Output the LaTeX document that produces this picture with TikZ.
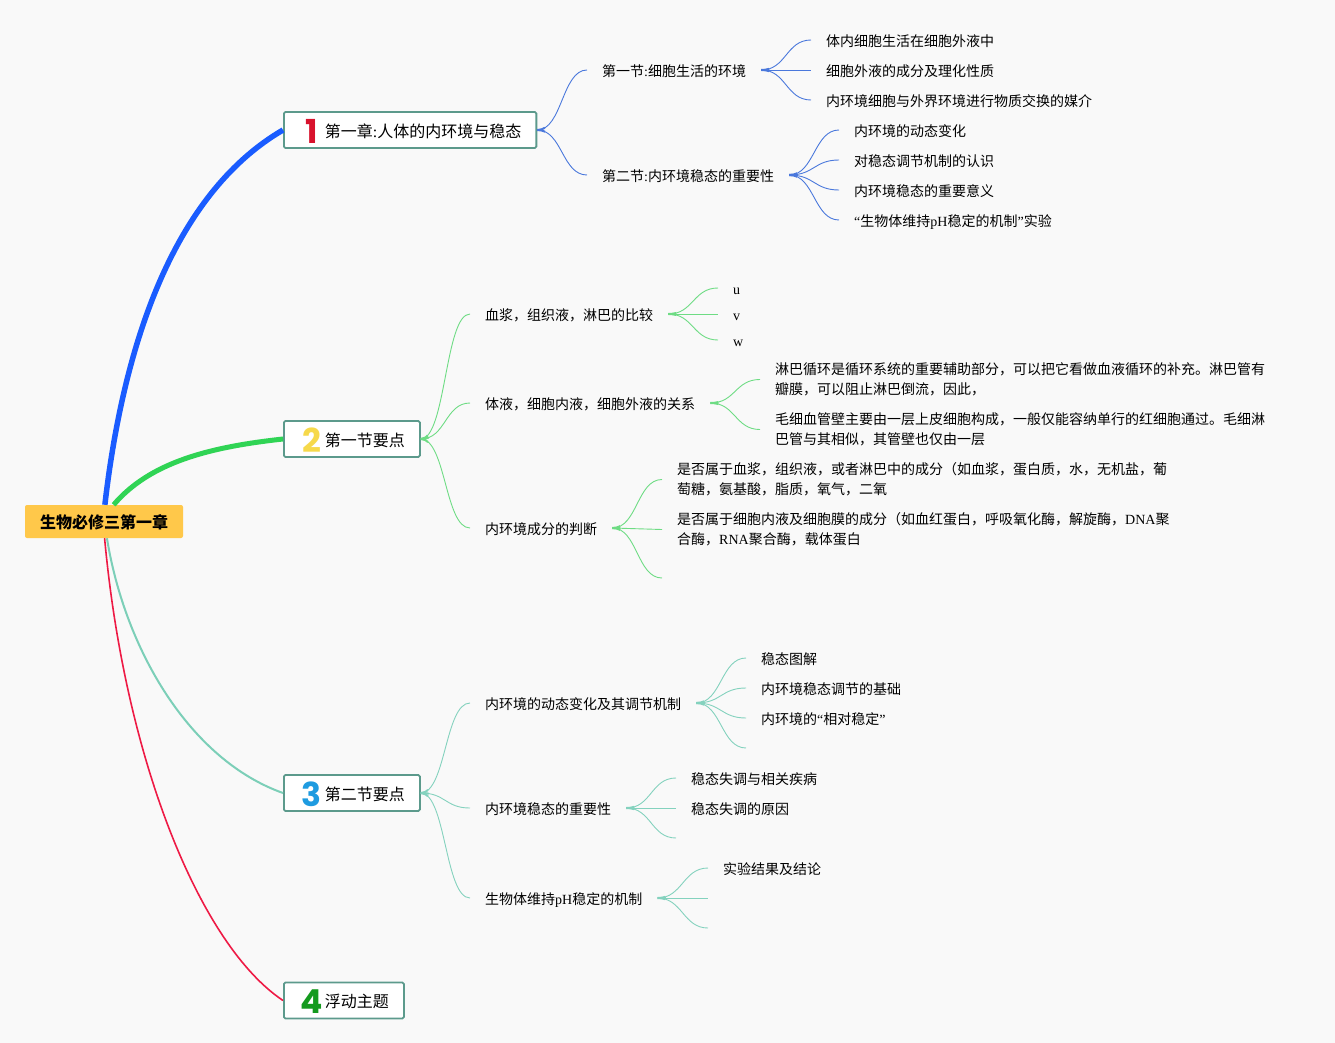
\documentclass[tikz,border=0pt]{standalone}
\usepackage{fontspec}
\usepackage{xcolor}
\setmainfont{Noto Sans CJK SC}
\newfontfamily\latfont{Liberation Serif}
\newfontfamily\numfont{Poppins}
\usepackage{tikz}
\definecolor{paper}{HTML}{F9F9F9}
\definecolor{rootfill}{HTML}{FFC84A}
\definecolor{boxline}{HTML}{5C9A8C}
\definecolor{bluemain}{HTML}{1A5CFF}
\definecolor{greenmain}{HTML}{30D455}
\definecolor{tealmain}{HTML}{7CCFB8}
\definecolor{redmain}{HTML}{EE1A45}
\definecolor{bluesub}{HTML}{4A78DC}
\definecolor{greensub}{HTML}{6EDC84}
\definecolor{tealsub}{HTML}{84D2BE}
\definecolor{numone}{HTML}{D8122C}
\definecolor{numtwo}{HTML}{F6D94B}
\definecolor{numthree}{HTML}{1E9BE0}
\definecolor{numfour}{HTML}{149A1E}
\newcommand{\lat}[1]{{\latfont #1}}
\newcommand{\numicon}[2]{\makebox[26pt][c]{\smash{\raisebox{-6pt}{\color{#1}\fontsize{33}{33}\numfont\bfseries #2}}}}
\tikzstyle{root} = [rectangle, rounded corners=2pt, fill=rootfill, minimum width=158pt, minimum height=33pt, inner sep=0pt, font=\fontsize{16}{20}\selectfont\bfseries, execute at begin node={\rule{0pt}{16pt}}]
\tikzstyle{chapter} = [rectangle, rounded corners=1.5pt, draw=boxline, line width=1.8pt, fill=white, minimum height=36pt, inner xsep=15pt, inner ysep=0pt, anchor=west, font=\fontsize{16}{20}\selectfont, execute at begin node={\rule{0pt}{16pt}}]
\tikzstyle{leaf} = [rectangle, inner xsep=15pt, inner ysep=0pt, anchor=west, align=left, font=\fontsize{14}{20}\selectfont, execute at begin node={\rule{0pt}{14.3pt}}]
\tikzstyle{fork} = [to path={.. controls +(25,0) and +(-25,0) .. (\tikztotarget)}, postaction={draw, line width=2pt, dash pattern=on 8pt off 2000pt}]
\tikzstyle{bluelink} = [draw=bluesub, line width=0.9pt, fork]
\tikzstyle{greenlink} = [draw=greensub, line width=0.9pt, fork]
\tikzstyle{teallink} = [draw=tealsub, line width=0.9pt, fork]
\begin{document}
\begin{tikzpicture}[x=1pt, y=-1pt]
   \useasboundingbox (0,0) rectangle (1335,1043);
   \fill [paper] (0,0) rectangle (1335,1043);
   \node (root) [root] at (104,521.5) {生物必修三第一章};
   \node (ch1) [chapter] at (283,130) {\numicon{numone}{1}第一章\lat{:}人体的内环境与稳态};
   \node (ch2) [chapter] at (283,439) {\numicon{numtwo}{2}第一节要点};
   \node (ch3) [chapter] at (283,793) {\numicon{numthree}{3}第二节要点};
   \node (ch4) [chapter] at (283,1000.5) {\numicon{numfour}{4}浮动主题};
   % main branches
   \draw [bluemain, line width=5.5pt] (root.87) .. controls (125,330) and (180,190) .. (ch1.west);
   \draw [greenmain, line width=5pt] (root.60) .. controls (150,462) and (210,447) .. (ch2.west);
   \draw [tealmain, line width=2pt] (root.-80) .. controls (125,650) and (190,760) .. (ch3.west);
   \draw [redmain, line width=1.6pt] (root.-88) .. controls (125,760) and (200,945) .. (ch4.west);
   % chapter one
   \node (a1) [leaf] at (587,70) {第一节\lat{:}细胞生活的环境};
   \node (a2) [leaf] at (587,175) {第二节\lat{:}内环境稳态的重要性};
   \node (a11) [leaf] at (811,40) {体内细胞生活在细胞外液中};
   \node (a12) [leaf] at (811,70) {细胞外液的成分及理化性质};
   \node (a13) [leaf] at (811,100) {内环境细胞与外界环境进行物质交换的媒介};
   \node (a21) [leaf] at (839,130) {内环境的动态变化};
   \node (a22) [leaf] at (839,160) {对稳态调节机制的认识};
   \node (a23) [leaf] at (839,190) {内环境稳态的重要意义};
   \node (a24) [leaf] at (839,220) {\lat{“}生物体维持\smash{\lat{pH}}稳定的机制\lat{”}实验};
   \foreach \kid in {a1,a2} \draw [bluelink] (ch1.east) to (\kid.west);
   \foreach \kid in {a11,a12,a13} \draw [bluelink] (a1.east) to (\kid.west);
   \foreach \kid in {a21,a22,a23,a24} \draw [bluelink] (a2.east) to (\kid.west);
   % first section
   \node (b1) [leaf] at (470,314) {血浆，组织液，淋巴的比较};
   \node (b2) [leaf] at (470,403) {体液，细胞内液，细胞外液的关系};
   \node (b3) [leaf] at (470,528) {内环境成分的判断};
   \node (b11) [leaf] at (718,288) {\lat{u}\vphantom{血}};
   \node (b12) [leaf] at (718,314) {\lat{v}\vphantom{血}};
   \node (b13) [leaf] at (718,340) {\lat{w}\vphantom{血}};
   \node (b21) [leaf] at (760,379.5) {淋巴循环是循环系统的重要辅助部分，可以把它看做血液循环的补充。淋巴管有\\瓣膜，可以阻止淋巴倒流，因此，};
   \node (b22) [leaf] at (760,429.5) {毛细血管壁主要由一层上皮细胞构成，一般仅能容纳单行的红细胞通过。毛细淋\\巴管与其相似，其管壁也仅由一层};
   \node (b31) [leaf] at (662,479.5) {是否属于血浆，组织液，或者淋巴中的成分（如血浆，蛋白质，水，无机盐，葡\\萄糖，氨基酸，脂质，氧气，二氧};
   \node (b32) [leaf] at (662,529.5) {是否属于细胞内液及细胞膜的成分（如血红蛋白，呼吸氧化酶，解旋酶，\lat{DNA}聚\\合酶，\lat{RNA}聚合酶，载体蛋白};
   \coordinate (b33) at (662,578);
   \foreach \kid in {b1,b2,b3} \draw [greenlink] (ch2.east) to (\kid.west);
   \foreach \kid in {b11,b12,b13} \draw [greenlink] (b1.east) to (\kid.west);
   \foreach \kid in {b21,b22} \draw [greenlink] (b2.east) to (\kid.west);
   \foreach \kid in {b31,b32} \draw [greenlink] (b3.east) to (\kid.west);
   \draw [greenlink] (b3.east) to (b33);
   % second section
   \node (c1) [leaf] at (470,703) {内环境的动态变化及其调节机制};
   \node (c2) [leaf] at (470,808) {内环境稳态的重要性};
   \node (c3) [leaf] at (470,898) {生物体维持\smash{\lat{pH}}稳定的机制};
   \node (c11) [leaf] at (746,658) {稳态图解};
   \node (c12) [leaf] at (746,688) {内环境稳态调节的基础};
   \node (c13) [leaf] at (746,718) {内环境的\lat{“}相对稳定\lat{”}};
   \coordinate (c14) at (746,748);
   \node (c21) [leaf] at (676,778) {稳态失调与相关疾病};
   \node (c22) [leaf] at (676,808) {稳态失调的原因};
   \coordinate (c23) at (676,838);
   \node (c31) [leaf] at (708,868) {实验结果及结论};
   \coordinate (c32) at (708,898);
   \coordinate (c33) at (708,928);
   \foreach \kid in {c1,c2,c3} \draw [teallink] (ch3.east) to (\kid.west);
   \foreach \kid in {c11,c12,c13} \draw [teallink] (c1.east) to (\kid.west);
   \draw [teallink] (c1.east) to (c14);
   \foreach \kid in {c21,c22} \draw [teallink] (c2.east) to (\kid.west);
   \draw [teallink] (c2.east) to (c23);
   \draw [teallink] (c3.east) to (c31.west);
   \foreach \kid in {c32,c33} \draw [teallink] (c3.east) to (\kid);
\end{tikzpicture}
\end{document}
